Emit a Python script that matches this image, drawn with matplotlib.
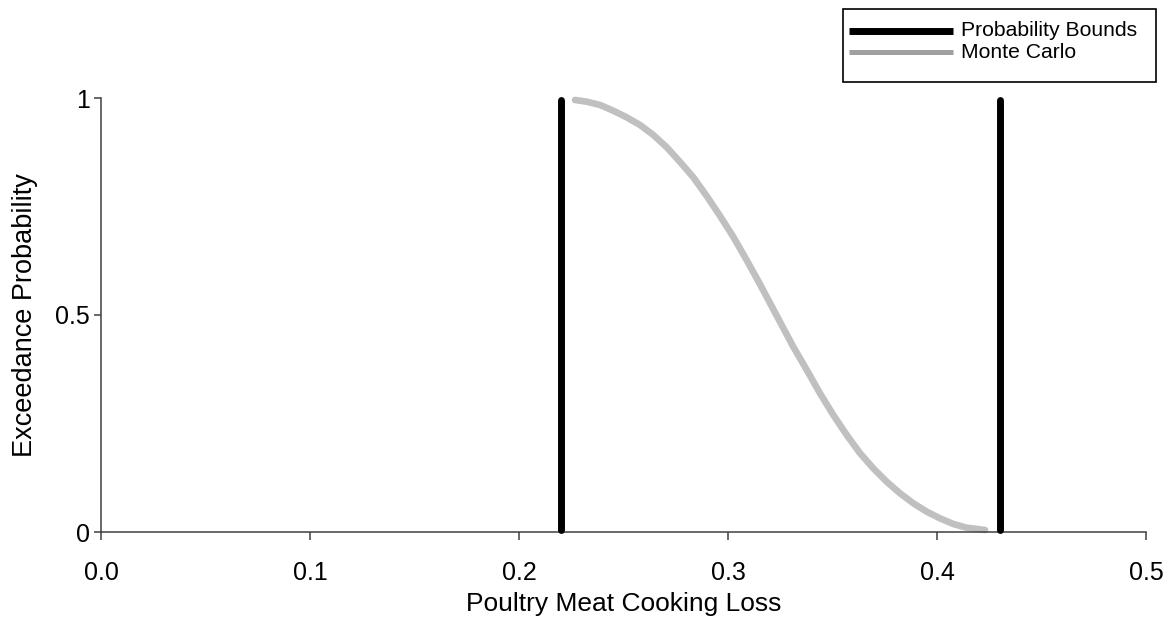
import matplotlib
matplotlib.use("Agg")
import matplotlib.pyplot as plt
from matplotlib.lines import Line2D
from matplotlib.patches import Rectangle

plt.rcParams['font.family'] = ['Liberation Sans', 'DejaVu Sans']

# Probability bounds (deterministic interval endpoints)
bound_lower = 0.22
bound_upper = 0.43
bound_prob = [0.005, 0.995]

# Monte Carlo exceedance curve
mc_loss = [0.2268, 0.2324, 0.2388, 0.2451, 0.2515, 0.2579, 0.2643, 0.2707,
           0.2770, 0.2834, 0.2898, 0.2962, 0.3025, 0.3089, 0.3145, 0.3185,
           0.3249, 0.3312, 0.3377, 0.3440, 0.3504, 0.3568, 0.3632, 0.3695,
           0.3759, 0.3823, 0.3887, 0.3951, 0.4014, 0.4078, 0.4142, 0.4230]
mc_prob = [0.9954, 0.9915, 0.9839, 0.9707, 0.9555, 0.9378, 0.9147, 0.8864,
           0.8530, 0.8173, 0.7742, 0.7281, 0.6804, 0.6267, 0.5780, 0.5420,
           0.4840, 0.4270, 0.3733, 0.3196, 0.2696, 0.2235, 0.1813, 0.1468,
           0.1159, 0.0892, 0.0661, 0.0468, 0.0316, 0.0184, 0.0099, 0.0046]

x_ticks = [0.0, 0.1, 0.2, 0.3, 0.4, 0.5]
x_tick_labels = ["0.0", "0.1", "0.2", "0.3", "0.4", "0.5"]
y_ticks = [0, 0.5, 1]
y_tick_labels = ["0", "0.5", "1"]

series_names = ["Probability Bounds", "Monte Carlo"]

W, H = 1173, 619
fig = plt.figure(figsize=(W / 100, H / 100), dpi=100)
ax = fig.add_axes([101 / W, 87 / H, 1045 / W, 434 / H])

ax.plot(mc_loss, mc_prob, color="#c0c0c0", lw=4.8, solid_capstyle="round",
        solid_joinstyle="round", clip_on=False, zorder=2)
for xb in (bound_lower, bound_upper):
    ax.plot([xb, xb], bound_prob, color="black", lw=5.0, solid_capstyle="round",
            clip_on=False, zorder=3)

ax.set_xlim(0, 0.5)
ax.set_ylim(0, 1)
ax.set_xticks(x_ticks)
ax.set_xticklabels(x_tick_labels)
ax.set_yticks(y_ticks)
ax.set_yticklabels(y_tick_labels)

for side in ("top", "right"):
    ax.spines[side].set_visible(False)
for side in ("left", "bottom"):
    ax.spines[side].set_color("#404040")
    ax.spines[side].set_linewidth(1.1)
ax.tick_params(direction="out", width=1.1, color="#404040", labelsize=18)
ax.tick_params(axis="x", length=6, pad=14.8)
ax.tick_params(axis="y", length=5, pad=3)

ax.set_xlabel("Poultry Meat Cooking Loss", fontsize=19)
ax.set_ylabel("Exceedance Probability", fontsize=19.5)
ax.xaxis.set_label_coords(0.5, -(592 - 532) / 434)
ax.yaxis.set_label_coords(-(101 - 38) / 1045, 0.5)

# Legend box drawn in figure pixel coordinates
def fx(px):
    return px / W

def fy(py):
    return 1 - py / H

box_l, box_t, box_r, box_b = 843, 9, 1156, 82
fig.patches.append(Rectangle((fx(box_l), fy(box_b)), fx(box_r) - fx(box_l),
                             fy(box_t) - fy(box_b), transform=fig.transFigure,
                             fill=False, ec="black", lw=1.2))
rows = [31, 52]
styles = [dict(color="black", lw=5.0), dict(color="#a0a0a0", lw=3.6)]
for name, row, st in zip(series_names, rows, styles):
    fig.add_artist(Line2D([fx(849), fx(953)], [fy(row), fy(row)],
                          transform=fig.transFigure, solid_capstyle="butt", **st))
    fig.text(fx(961), fy(row), name, fontsize=15.2, va="center", ha="left")

fig.savefig("out.png", dpi=100)
